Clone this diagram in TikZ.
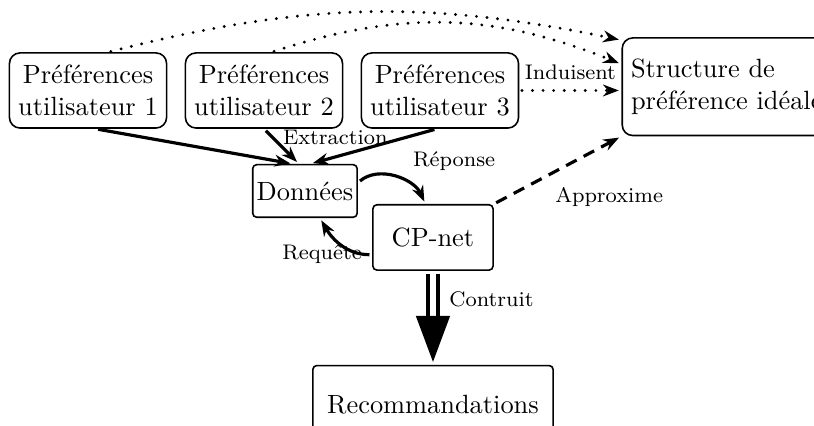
\documentclass[tikz,border=0pt]{standalone}
\usetikzlibrary{positioning,arrows,arrows.meta}
\tikzset{
	flow/.style={>={Stealth[length=6pt,width=4.5pt]},shorten >=1pt,shorten <=1pt,auto,semithick},
	pref/.style={draw,rounded corners,align=center,minimum height=1cm},
	ideal/.style={draw,rounded corners,align=left,minimum height=1.3cm},
	databox/.style={draw,rounded corners=1.5pt,inner xsep=1.5pt,minimum height=0.7cm},
	cpbox/.style={draw,rounded corners=1.5pt,minimum width=1.6cm,minimum height=0.87cm},
	recbox/.style={draw,rounded corners=1.5pt,minimum width=3.2cm,minimum height=1.04cm},
	extract/.style={->,very thick},
	induce/.style={->,line width=1.2pt,line cap=round,dash pattern=on 0pt off 4pt},
	approx/.style={->,very thick,dash pattern=on 4.5pt off 3pt},
	build/.style={-{Triangle[length=17.5pt,width=12.5pt]},double,double distance=2pt,line width=1.8pt}
}

\begin{document}
\begin{tikzpicture}[flow]
\useasboundingbox (0,0) rectangle (10.84,-5.672);
\clip (0,0) rectangle (10.84,-5.672);

\node[pref] (p1) at (1.172,-1.205) {Préférences\\utilisateur 1};
\node[pref] (p2) [right=0.23cm of p1] {Préférences\\utilisateur 2};
\node[pref] (p3) [right=0.23cm of p2] {Préférences\\utilisateur 3};
\node[ideal] (ideal) [right=1.36cm of p3, yshift=0.05cm] {Structure de\\préférence idéale};
\node[databox] (donnees) at (4.061,-2.543) {Données};
\node[cpbox] (cpnet) at (5.766,-3.162) {CP-net};
\node[recbox] (reco) [below=1.25cm of cpnet] {Recommandations};

% extraction des donnees
\draw[extract] ([xshift=0.1cm]p1.south) -- ([xshift=-0.16cm]donnees.north);
\draw[extract] (p2.south) -- node[pos=0.25,right] {\footnotesize Extraction} ([xshift=-0.08cm]donnees.north);
\draw[extract] ([xshift=-0.04cm]p3.south) -- ([xshift=0.07cm]donnees.north);

% preferences -> structure ideale
\draw[induce] ([xshift=0.27cm]p1.north) to[bend left=13] ([yshift=-0.04cm]ideal.north west);
\draw[induce] ([xshift=0.1cm]p2.north) to[bend left=20] ([yshift=0.3cm]ideal.west);
\draw[induce] (p3) -- node[above] {\footnotesize Induisent} (p3 -| ideal.west);

% apprentissage
\draw[extract] ([yshift=0.11cm]donnees.east) to[out=40,in=115] node[above right,pos=0.6] {\footnotesize Réponse} ([xshift=-0.1cm]cpnet.north);
\draw[extract] ([yshift=-0.23cm]cpnet.west) to[out=180,in=-60] node[pos=0,left] {\footnotesize Requête} ([xshift=0.2cm]donnees.south);
\draw[approx] (cpnet.north east) -- node[below right,pos=0.4] {\footnotesize Approxime} (ideal.south west);
\draw[build] (cpnet) -- node[pos=0.3,right,xshift=2pt] {\footnotesize Contruit} (reco);
\end{tikzpicture}
\end{document}
